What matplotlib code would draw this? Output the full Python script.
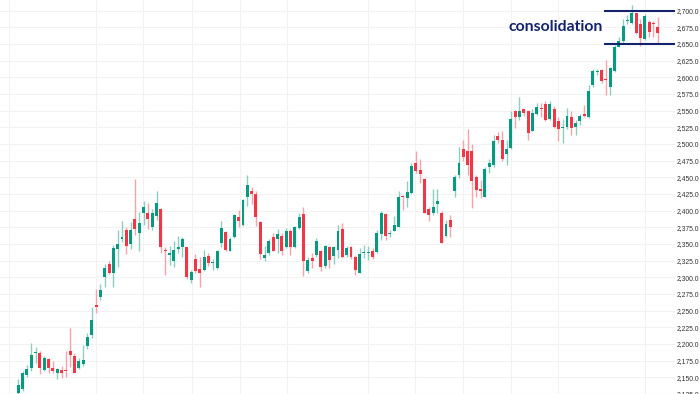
import matplotlib.pyplot as plt
import numpy as np
from matplotlib.ticker import FuncFormatter, MultipleLocator

# OHLC values, one entry per daily candle
opens = [2126, 2132, 2154, 2164, 2186, 2187, 2161, 2178, 2164, 2157,
         2161, 2160, 2189, 2182, 2164, 2170, 2197, 2214, 2258, 2271,
         2300, 2320, 2307, 2342, 2357, 2371, 2350, 2388, 2367, 2397,
         2397, 2376, 2392, 2403, 2341, 2333, 2325, 2343, 2346, 2345,
         2296, 2328, 2312, 2311, 2332, 2321, 2314, 2351, 2368, 2340,
         2361, 2390, 2379, 2421, 2430, 2425, 2383, 2329, 2336, 2361,
         2358, 2362, 2345, 2370, 2345, 2374, 2395, 2309, 2329, 2334,
         2340, 2317, 2346, 2332, 2341, 2372, 2334, 2345, 2331, 2307,
         2337, 2336, 2340, 2338, 2365, 2395, 2365, 2370, 2376, 2422,
         2419, 2426, 2472, 2461, 2447, 2402, 2396, 2410, 2397, 2362,
         2386, 2429, 2454, 2492, 2490, 2490, 2450, 2432, 2421, 2466,
         2469, 2512, 2506, 2485, 2494, 2550, 2541, 2552, 2550, 2520,
         2545, 2554, 2560, 2538, 2553, 2535, 2524, 2525, 2541, 2525,
         2535, 2545, 2540, 2588, 2608, 2611, 2598, 2585, 2610, 2646,
         2654, 2684, 2681, 2696, 2680, 2657, 2683, 2682, 2676]
highs = [2147, 2159, 2169, 2201, 2196, 2189, 2182, 2179, 2175, 2164,
         2167, 2190, 2224, 2187, 2179, 2199, 2216, 2256, 2282, 2290,
         2320, 2325, 2349, 2371, 2384, 2376, 2383, 2447, 2398, 2414,
         2411, 2402, 2430, 2404, 2345, 2347, 2355, 2362, 2360, 2346,
         2311, 2335, 2330, 2341, 2336, 2328, 2341, 2385, 2370, 2361,
         2395, 2401, 2417, 2454, 2436, 2429, 2384, 2347, 2357, 2366,
         2372, 2367, 2374, 2372, 2377, 2396, 2406, 2330, 2336, 2359,
         2341, 2349, 2347, 2347, 2379, 2382, 2347, 2347, 2334, 2344,
         2349, 2347, 2344, 2371, 2399, 2397, 2371, 2392, 2430, 2423,
         2444, 2472, 2489, 2477, 2449, 2406, 2432, 2432, 2399, 2386,
         2394, 2453, 2495, 2506, 2522, 2500, 2454, 2446, 2466, 2477,
         2514, 2518, 2520, 2506, 2549, 2551, 2570, 2553, 2551, 2552,
         2562, 2562, 2564, 2564, 2557, 2541, 2537, 2554, 2550, 2536,
         2545, 2559, 2589, 2613, 2613, 2613, 2626, 2616, 2648, 2661,
         2688, 2693, 2708, 2697, 2688, 2695, 2686, 2684, 2691]
lows = [2124, 2129, 2151, 2159, 2172, 2155, 2159, 2156, 2156, 2147,
        2149, 2150, 2166, 2156, 2162, 2167, 2192, 2209, 2247, 2266,
        2285, 2305, 2285, 2315, 2353, 2335, 2342, 2363, 2339, 2379,
        2372, 2371, 2386, 2337, 2304, 2318, 2315, 2337, 2331, 2298,
        2291, 2307, 2286, 2310, 2317, 2311, 2312, 2346, 2339, 2339,
        2359, 2375, 2377, 2407, 2410, 2377, 2327, 2325, 2334, 2339,
        2336, 2334, 2344, 2334, 2344, 2372, 2302, 2306, 2314, 2331,
        2310, 2314, 2314, 2320, 2329, 2329, 2331, 2327, 2304, 2306,
        2329, 2326, 2327, 2336, 2356, 2356, 2360, 2369, 2375, 2401,
        2406, 2425, 2456, 2442, 2396, 2385, 2394, 2396, 2351, 2360,
        2361, 2421, 2449, 2474, 2454, 2404, 2421, 2419, 2420, 2456,
        2466, 2501, 2475, 2469, 2492, 2524, 2536, 2542, 2506, 2519,
        2544, 2541, 2534, 2536, 2524, 2504, 2502, 2522, 2514, 2514,
        2529, 2540, 2539, 2586, 2604, 2591, 2574, 2574, 2608, 2645,
        2652, 2680, 2680, 2665, 2647, 2656, 2660, 2661, 2652]
closes = [2139, 2156, 2163, 2184, 2188, 2164, 2179, 2164, 2159, 2162,
          2157, 2159, 2183, 2157, 2175, 2176, 2210, 2236, 2256, 2281,
          2314, 2307, 2344, 2350, 2361, 2347, 2371, 2372, 2382, 2406,
          2387, 2397, 2412, 2345, 2340, 2336, 2341, 2346, 2357, 2300,
          2308, 2309, 2306, 2330, 2322, 2322, 2339, 2374, 2341, 2358,
          2394, 2384, 2416, 2438, 2425, 2391, 2335, 2334, 2355, 2340,
          2365, 2339, 2369, 2345, 2375, 2390, 2324, 2326, 2325, 2354,
          2316, 2347, 2326, 2345, 2369, 2330, 2344, 2330, 2311, 2335,
          2338, 2337, 2331, 2367, 2396, 2362, 2367, 2379, 2421, 2420,
          2428, 2467, 2459, 2455, 2397, 2394, 2406, 2415, 2352, 2380,
          2376, 2451, 2472, 2480, 2469, 2444, 2431, 2430, 2463, 2472,
          2504, 2506, 2478, 2492, 2537, 2541, 2550, 2547, 2516, 2546,
          2555, 2553, 2536, 2560, 2526, 2522, 2526, 2542, 2524, 2532,
          2542, 2542, 2580, 2610, 2610, 2594, 2596, 2614, 2646, 2654,
          2677, 2685, 2696, 2667, 2659, 2692, 2668, 2680, 2667]

# candle positions where the faint vertical date grid falls
grid_days = [-2.15, 18.0, 28.9, 40.1, 51.2, 62.1, 81.0, 91.9, 102.9, 114.1, 125.0, 145.1]

# consolidation range marked at the top right
cons_low = 2650
cons_high = 2700
cons_start = 135.6
cons_label = 'consolidation'

up_color = '#089981'
down_color = '#f23645'
navy = '#14236b'

o = np.array(opens, dtype=float)
h = np.array(highs, dtype=float)
l = np.array(lows, dtype=float)
c = np.array(closes, dtype=float)
x = np.arange(len(o))

fig = plt.figure(figsize=(7, 3.94), dpi=100)
ax = fig.add_axes([0, 0, 675 / 700, 1])

xmin, xmax = -4.24, 152.0
ax.set_xlim(xmin, xmax)
ax.set_ylim(2125, 2716)

# grid
ax.yaxis.set_major_locator(MultipleLocator(25))
ax.grid(axis='y', color='#f2f2f2', linewidth=0.8)
for g in grid_days:
    ax.axvline(g, color='#f2f2f2', linewidth=0.8, zorder=0)
ax.set_axisbelow(True)

up = c >= o
colors = np.where(up, up_color, down_color)
wick_colors = np.where(up, '#8ccfc1', '#f7a3aa')

# wicks then bodies
ax.vlines(x, l, h, colors=wick_colors, linewidth=1.0, zorder=2)
body_bottom = np.minimum(o, c)
body_height = np.maximum(np.abs(c - o), 1.3)
ax.bar(x, body_height, bottom=body_bottom, width=0.68, color=colors,
       linewidth=0, zorder=3)

# consolidation box
ax.hlines([cons_low, cons_high], cons_start, xmax, colors=navy, linewidth=1.5, zorder=4)
ax.text(cons_start - 0.3, (cons_low + cons_high) / 2, cons_label,
        ha='right', va='center', fontsize=11.3, fontweight='bold',
        color=navy, family=['Lato', 'DejaVu Sans'])

# right price scale
ax.yaxis.tick_right()
ax.yaxis.set_major_formatter(FuncFormatter(lambda v, pos: f'{v:,.1f}'))
ax.tick_params(axis='y', length=0, pad=1.5, labelsize=4.9, labelcolor='#333333')
for lab in ax.get_yticklabels():
    lab.set_family(['Liberation Sans', 'DejaVu Sans'])
ax.set_xticks([])
for s in ax.spines.values():
    s.set_visible(False)

plt.savefig('out.png', dpi=100)
plt.close()
